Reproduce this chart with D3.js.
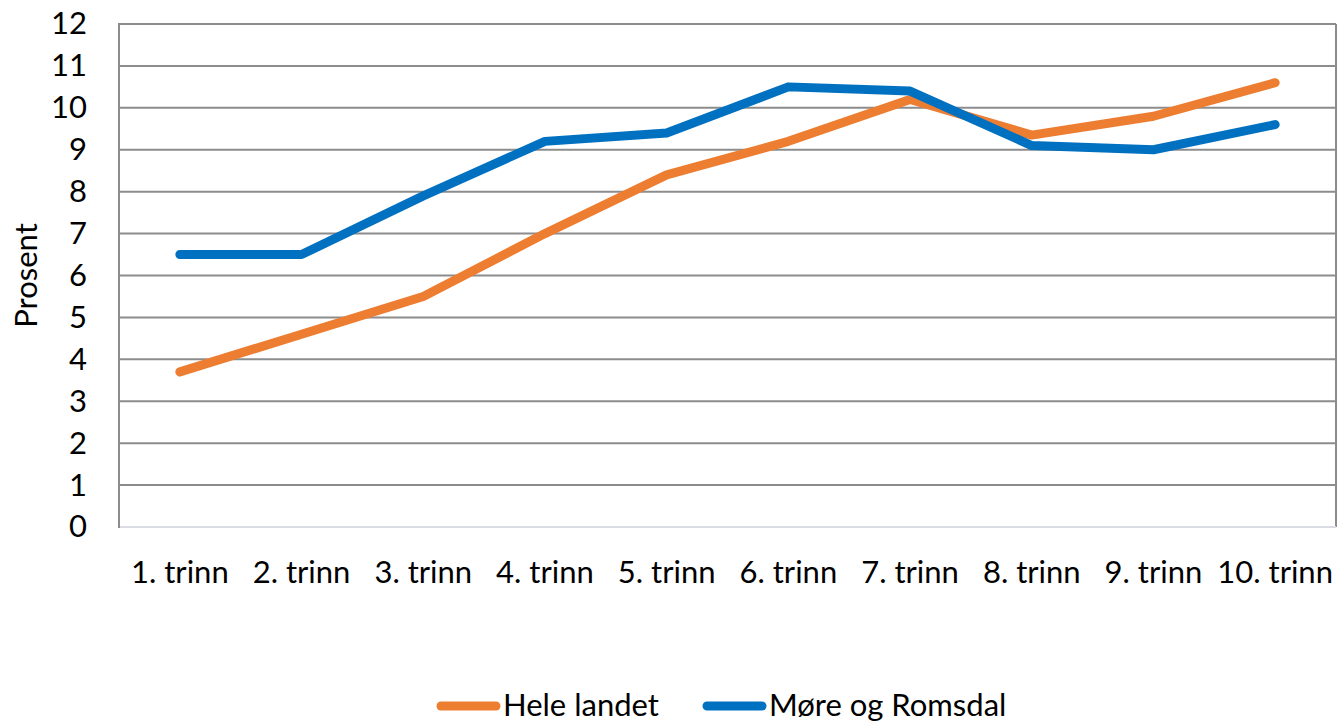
<!DOCTYPE html>
<html>
<head>
<meta charset="utf-8">
<script src="https://cdn.jsdelivr.net/npm/d3@7"></script>
<style>
  body { margin: 0; background: #fff; }
  text { font-family: Lato, "Open Sans", sans-serif; fill: #000; }
</style>
</head>
<body>
<div id="plot"></div>
<script>
const categories = ["1. trinn", "2. trinn", "3. trinn", "4. trinn", "5. trinn",
                    "6. trinn", "7. trinn", "8. trinn", "9. trinn", "10. trinn"]
const heleLandet = [3.7, 4.6, 5.5, 7.0, 8.4, 9.2, 10.2, 9.35, 9.8, 10.6]
const moreRomsdal = [6.5, 6.5, 7.9, 9.2, 9.4, 10.5, 10.4, 9.1, 9.0, 9.6]
const yTicks = [0, 1, 2, 3, 4, 5, 6, 7, 8, 9, 10, 11, 12]
const seriesNames = ["Hele landet", "Møre og Romsdal"]
const seriesColors = ["#ED7D31", "#0070C0"]

const w = 1338, h = 724
const margin = {top: 24, right: 2, bottom: 197, left: 119}
const fontSize = "31px"

const svg = d3.select("#plot").append("svg")
  .attr("width", w)
  .attr("height", h)

const xScale = d3.scaleBand()
  .domain(categories)
  .range([margin.left, w - margin.right])
const yScale = d3.scaleLinear()
  .domain([0, 12])
  .range([h - margin.bottom, margin.top])

// gridlines
svg.append("g")
  .selectAll("line")
  .data(yTicks.filter(d => d > 0))
  .join("line")
  .attr("x1", margin.left)
  .attr("x2", w - margin.right)
  .attr("y1", d => yScale(d))
  .attr("y2", d => yScale(d))
  .attr("stroke", "#8c8c8c")
  .attr("stroke-width", 2)

// right border
svg.append("line")
  .attr("x1", w - margin.right).attr("x2", w - margin.right)
  .attr("y1", yScale(12)).attr("y2", yScale(0))
  .attr("stroke", "#8c8c8c")
  .attr("stroke-width", 2)

// bottom axis line (light)
svg.append("line")
  .attr("x1", margin.left).attr("x2", w - margin.right)
  .attr("y1", yScale(0)).attr("y2", yScale(0))
  .attr("stroke", "#d9dde3")
  .attr("stroke-width", 2)

// left axis line
svg.append("line")
  .attr("x1", margin.left).attr("x2", margin.left)
  .attr("y1", yScale(12) - 1).attr("y2", yScale(0) + 1)
  .attr("stroke", "#8c8c8c")
  .attr("stroke-width", 2)

// y tick labels
const yAxis = svg.append("g")
  .attr("transform", `translate(${margin.left}, 0)`)
  .call(d3.axisLeft(yScale).tickValues(yTicks).tickSize(0).tickPadding(32))
yAxis.select(".domain").remove()
yAxis.selectAll("text")
  .style("font-size", fontSize)
  .style("font-family", "Lato, 'Open Sans', sans-serif")
  .attr("fill", "#000")

// x tick labels
const xAxis = svg.append("g")
  .attr("transform", `translate(0, ${yScale(0)})`)
  .call(d3.axisBottom(xScale).tickSize(0).tickPadding(34))
xAxis.select(".domain").remove()
xAxis.selectAll("text")
  .style("font-size", fontSize)
  .style("font-family", "Lato, 'Open Sans', sans-serif")
  .attr("fill", "#000")

// y axis title
svg.append("text")
  .attr("transform", `translate(37, ${yScale(6)}) rotate(-90)`)
  .style("text-anchor", "middle")
  .style("font-size", fontSize)
  .text("Prosent")

const line = d3.line()
  .x((d, i) => xScale(categories[i]) + xScale.bandwidth() / 2)
  .y(d => yScale(d))

const allSeries = [heleLandet, moreRomsdal]
allSeries.forEach((s, k) => {
  svg.append("path")
    .datum(s)
    .attr("d", line)
    .attr("fill", "none")
    .attr("stroke", seriesColors[k])
    .attr("stroke-width", 9)
    .attr("stroke-linecap", "round")
    .attr("stroke-linejoin", "round")
})

// legend
const legendY = 706
const legendX = [441, 707]
seriesNames.forEach((name, k) => {
  const lg = svg.append("g").attr("transform", `translate(${legendX[k]}, ${legendY})`)
  lg.append("line")
    .attr("x1", 0).attr("x2", 55)
    .attr("y1", 0).attr("y2", 0)
    .attr("stroke", seriesColors[k])
    .attr("stroke-width", 9)
    .attr("stroke-linecap", "round")
  lg.append("text")
    .attr("x", 62)
    .attr("y", 10)
    .style("font-size", fontSize)
    .text(name)
})
</script>
</body>
</html>
